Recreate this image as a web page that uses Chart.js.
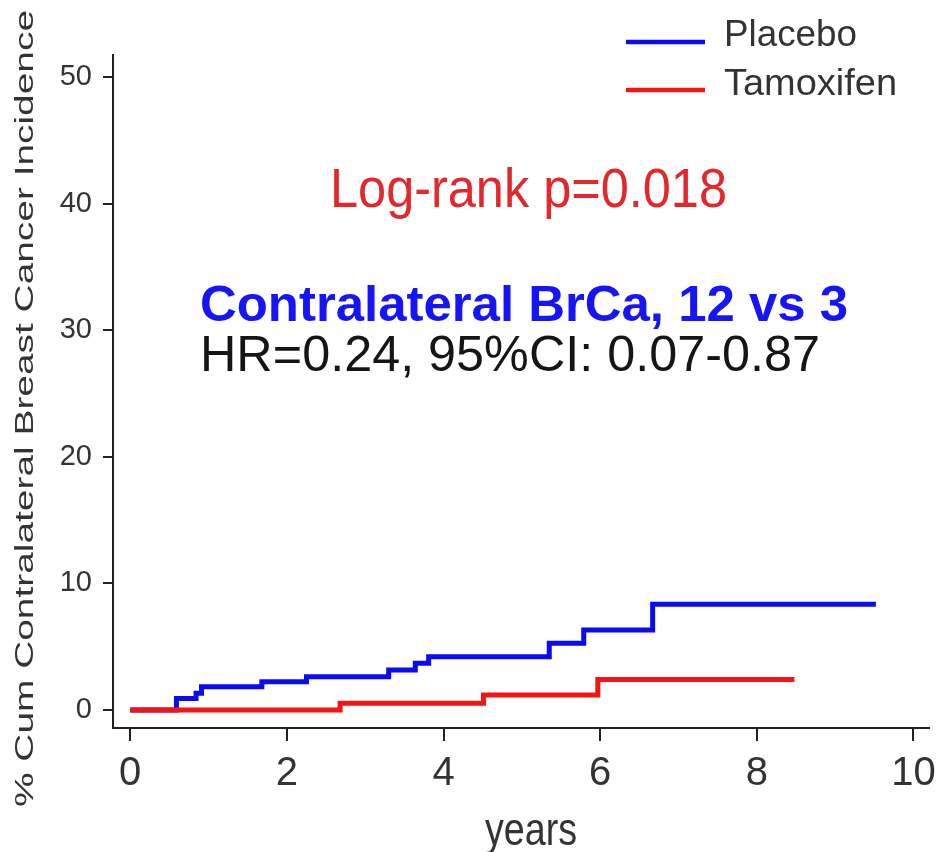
<!DOCTYPE html>
<html>
<head>
<meta charset="utf-8">
<script src="https://cdn.jsdelivr.net/npm/chart.js@4.4.1/dist/chart.umd.min.js"></script>
<style>
  html, body { margin: 0; padding: 0; background: #fff; }
  #wrap { width: 945px; height: 852px; }
</style>
</head>
<body>
<div id="wrap"><canvas id="km" width="945" height="852"></canvas></div>
<script>
// cumulative incidence (%) at each event time (years)
var placeboYears = [0, 0.59, 0.84, 0.91, 1.68, 2.25, 3.30, 3.64, 3.81, 5.35, 5.79, 6.67, 9.52];
var placeboPct   = [0, 0.92, 1.32, 1.84, 2.24, 2.63, 3.16, 3.69, 4.21, 5.27, 6.32, 8.35, 8.35];
var tamoxYears   = [0, 2.68, 4.51, 5.97, 8.48];
var tamoxPct     = [0, 0.53, 1.18, 2.42, 2.42];

var xTicks = [0, 2, 4, 6, 8, 10];
var yTicks = [0, 10, 20, 30, 40, 50];

var seriesNames  = ['Placebo', 'Tamoxifen'];
var seriesColors = ['#0b0bf2', '#f41414'];

var xTitle = 'years';
var yTitle = '% Cum Contralateral Breast Cancer Incidence';
var pText  = 'Log-rank p=0.018';
var cbText = 'Contralateral BrCa, 12 vs 3';
var hrText = 'HR=0.24, 95%CI: 0.07-0.87';

var FONT = "'Liberation Sans', Arial, Helvetica, sans-serif";

function toPoints(xs, ys) {
	var pts = [];
	for (var i = 0; i < xs.length; i++) pts.push({x: xs[i], y: ys[i]});
	return pts;
}

// text squeezed/stretched to the width it has in the picture
function fitText(ctx, str, x, y, size, weight, color, width, rotate) {
	ctx.save();
	ctx.font = weight + ' ' + size + 'px ' + FONT;
	ctx.fillStyle = color;
	ctx.textAlign = 'left';
	ctx.textBaseline = 'alphabetic';
	var w = ctx.measureText(str).width;
	ctx.translate(x, y);
	if (rotate) ctx.rotate(-Math.PI / 2);
	ctx.scale(width / w, 1);
	ctx.fillText(str, 0, 0);
	ctx.restore();
}

var textPlugin = {
	id: 'kmText',
	afterDraw: function(chart) {
		var ctx = chart.ctx;
		// legend, top right
		chart.data.datasets.forEach(function(ds, i) {
			var ly = 42 + i * 48;
			ctx.save();
			ctx.strokeStyle = ds.borderColor;
			ctx.lineWidth = 4.5;
			ctx.beginPath();
			ctx.moveTo(626, ly);
			ctx.lineTo(705, ly);
			ctx.stroke();
			ctx.restore();
			fitText(ctx, ds.label, 724, 46 + i * 49, 36, 'normal', '#333', i == 0 ? 133 : 173, false);
		});
		fitText(ctx, pText, 330, 207, 55, 'normal', '#e3282c', 397, false);
		fitText(ctx, cbText, 200, 321, 50, 'bold', '#1515f8', 648, false);
		fitText(ctx, hrText, 200, 371, 50, 'normal', '#151515', 620, false);
		fitText(ctx, yTitle, 33, 807, 26, 'normal', '#333', 797, true);
		fitText(ctx, xTitle, 485, 845, 46, 'normal', '#333', 92, false);
	}
};

new Chart(document.getElementById('km'), {
	type: 'line',
	data: {
		datasets: [
			// tamoxifen is drawn over placebo (lower order = on top)
			{label: seriesNames[0], data: toPoints(placeboYears, placeboPct), borderColor: seriesColors[0], order: 1},
			{label: seriesNames[1], data: toPoints(tamoxYears, tamoxPct), borderColor: seriesColors[1], order: 0}
		]
	},
	options: {
		responsive: false,
		devicePixelRatio: 1,
		animation: false,
		layout: {padding: {top: 55, right: 15, left: 0, bottom: 0}},
		elements: {
			line: {stepped: 'before', borderWidth: 5, fill: false, borderCapStyle: 'butt'},
			point: {radius: 0, hoverRadius: 0}
		},
		plugins: {legend: {display: false}, tooltip: {enabled: false}},
		scales: {
			x: {
				type: 'linear',
				min: -0.22,
				max: 10.2,
				afterBuildTicks: function(s) { s.ticks = xTicks.map(function(v) { return {value: v}; }); },
				afterFit: function(s) { s.height = 124; },
				grid: {display: true, drawOnChartArea: false, drawTicks: true, tickLength: 13, color: '#222', lineWidth: 2},
				border: {display: true, color: '#222', width: 2},
				ticks: {color: '#333', padding: 9, maxRotation: 0, font: {family: FONT, size: 40}}
			},
			y: {
				type: 'linear',
				min: -1.42,
				max: 51.74,
				afterBuildTicks: function(s) { s.ticks = yTicks.map(function(v) { return {value: v}; }); },
				afterFit: function(s) { s.width = 113; },
				grid: {display: true, drawOnChartArea: false, drawTicks: true, tickLength: 10, color: '#222', lineWidth: 2},
				border: {display: true, color: '#222', width: 2},
				ticks: {color: '#333', padding: 11, font: {family: FONT, size: 29}}
			}
		}
	},
	plugins: [textPlugin]
});
</script>
</body>
</html>
